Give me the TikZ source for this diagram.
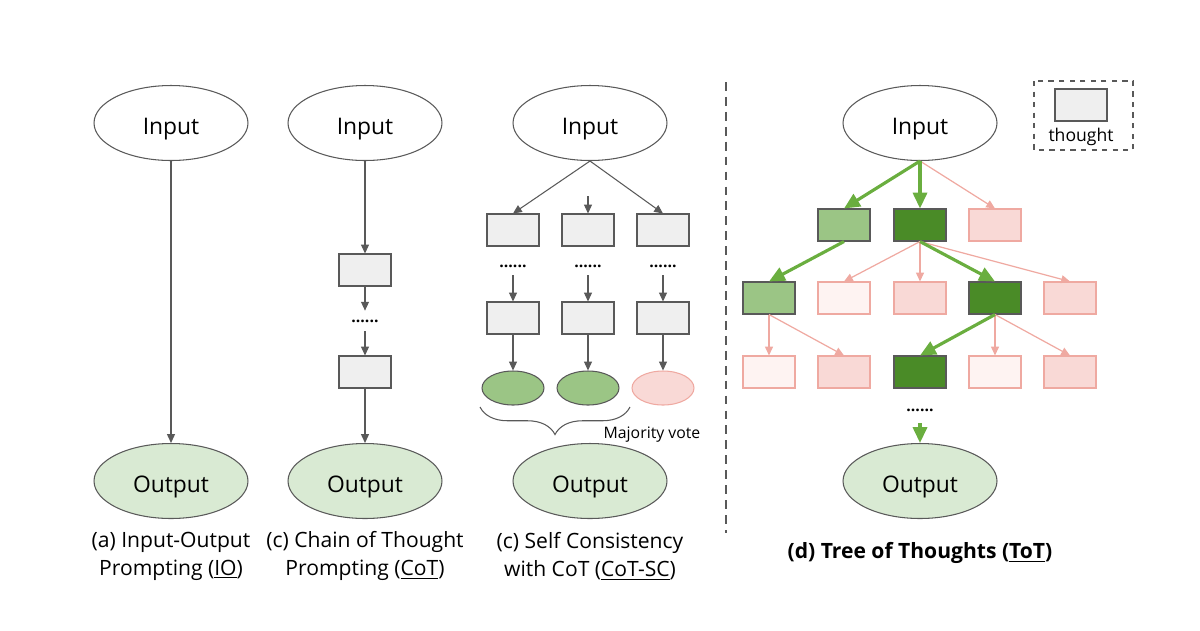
\documentclass[tikz,border=0pt]{standalone}
\usepackage{fontspec}
\setmainfont{Open Sans}
\usetikzlibrary{arrows.meta, positioning, shapes.geometric, decorations.pathreplacing}

\definecolor{edgegray}{HTML}{595959}
\definecolor{boxgray}{HTML}{EFEFEF}
\definecolor{outgreen}{HTML}{D9EAD3}
\definecolor{lightgreen}{HTML}{9BC585}
\definecolor{darkgreen}{HTML}{4A8B27}
\definecolor{arrowgreen}{HTML}{6AAE3F}
\definecolor{pinkfill}{HTML}{F9D9D6}
\definecolor{palepink}{HTML}{FEF3F2}
\definecolor{pinkline}{HTML}{EFA9A1}

\begin{document}
\begin{tikzpicture}[x=0.02cm, y=-0.02cm,
    io/.style={ellipse, draw=edgegray, fill=white, line width=0.6pt, minimum width=3.08cm, minimum height=1.5cm, inner sep=0pt, text height=13.3pt, text depth=0pt, font=\fontsize{13}{15}\selectfont},
    outnode/.style={io, fill=outgreen},
    thought/.style={draw=edgegray, fill=boxgray, line width=0.6pt, minimum width=1.04cm, minimum height=0.64cm, inner sep=0pt},
    answer/.style={ellipse, draw=edgegray, line width=0.6pt, minimum width=1.24cm, minimum height=0.68cm, inner sep=0pt},
    lgood/.style={thought, fill=lightgreen},
    dgood/.style={thought, fill=darkgreen},
    pbad/.style={thought, draw=pinkline, fill=pinkfill},
    pwbad/.style={thought, draw=pinkline, fill=palepink},
    dots/.style={inner sep=0pt, font=\bfseries\fontsize{9}{9}\selectfont},
    caption/.style={align=center, font=\fontsize{12}{16}\selectfont},
    garrow/.style={-{Triangle[length=5pt,width=4.5pt]}, draw=edgegray, line width=0.6pt},
    greenarrow/.style={-{Triangle[length=9pt,width=8pt]}, draw=arrowgreen, line width=1.8pt},
    pinkarrow/.style={-{Triangle[length=5pt,width=4.5pt]}, draw=pinkline, line width=0.7pt},
]
  \useasboundingbox (0,0) rectangle (1200,630);

  % (a) Input-Output
  \node[io] (in1) at (171,123) {Input};
  \node[outnode] (out1) at (171,481) {Output};
  \draw[garrow] (in1) -- (out1);
  \node[caption] (cap1) at (171,556) {(a) Input-Output\\Prompting (\underline{IO})};

  % (b) Chain of Thought
  \node[io] (in2) at (365,123) {Input};
  \node[thought] (cot1) at (365,270) {};
  \node[dots, minimum height=0.4cm] (cotd) at (365,321) {......};
  \node[thought] (cot2) at (365,372) {};
  \node[outnode] (out2) at (365,481) {Output};
  \draw[garrow] (in2) -- (cot1);
  \draw[garrow] (cot1) -- (cotd);
  \draw[garrow] (cotd) -- (cot2);
  \draw[garrow] (cot2) -- (out2);
  \node[caption] (cap2) at (365,556) {(c) Chain of Thought\\Prompting (\underline{CoT})};

  % (c) Self Consistency
  \node[io] (in3) at (590,123) {Input};
  \coordinate (scm) at (588,196);
  \foreach \i/\x in {1/513, 2/588, 3/663} {
    \node[thought] (sca\i) at (\x,230) {};
    \node[dots, minimum height=0.36cm] (scd\i) at (\x,266) {......};
    \node[thought] (scb\i) at (\x,318) {};
    \draw[garrow] (scd\i) -- (scb\i);
  }
  \node[answer, fill=lightgreen] (ans1) at (513,388) {};
  \node[answer, fill=lightgreen] (ans2) at (588,388) {};
  \node[answer, draw=pinkline, fill=pinkfill] (ans3) at (663,388) {};
  \draw[garrow] (in3.south) -- (sca1.north);
  \draw[garrow] (scm) -- (sca2.north);
  \draw[garrow] (in3.south) -- (sca3.north);
  \foreach \i in {1,2,3}
    \draw[garrow] (scb\i) -- (ans\i);
  \draw[edgegray, line width=0.6pt, decorate, decoration={brace, amplitude=0.55cm}] (630,407) -- (480,407);
  \node[font=\fontsize{9}{11}\selectfont] (vote) at (652,435) {Majority vote};
  \node[outnode] (out3) at (590,481) {Output};
  \node[caption] (cap3) at (590,556) {(c) Self Consistency\\with CoT (\underline{CoT-SC})};

  % separator
  \draw[edgegray, line width=1.2pt, dash pattern=on 5pt off 3.5pt] (726,82) -- (726,533);

  % (d) Tree of Thoughts
  \node[io] (tin) at (920,123) {Input};
  \node[lgood] (t11) at (844,225) {};
  \node[dgood] (t12) at (920,225) {};
  \node[pbad]  (t13) at (995,225) {};
  \node[lgood] (t21) at (769,298) {};
  \node[pwbad] (t22) at (844,298) {};
  \node[pbad]  (t23) at (920,298) {};
  \node[dgood] (t24) at (995,298) {};
  \node[pbad]  (t25) at (1070,298) {};
  \node[pwbad] (t31) at (769,372) {};
  \node[pbad]  (t32) at (844,372) {};
  \node[dgood] (t33) at (920,372) {};
  \node[pwbad] (t34) at (995,372) {};
  \node[pbad]  (t35) at (1070,372) {};
  \node[dots, minimum height=0.5cm] (tdots) at (920,410) {......};
  \node[outnode] (out4) at (920,481) {Output};

  \draw[pinkarrow] (tin.south) -- (t13.north);
  \foreach \c in {t22, t23, t25}
    \draw[pinkarrow] (t12.south) -- (\c.north);
  \foreach \c in {t31, t32}
    \draw[pinkarrow] (t21.south) -- (\c.north);
  \foreach \c in {t34, t35}
    \draw[pinkarrow] (t24.south) -- (\c.north);
  \draw[greenarrow] (tin.south) -- (t11.north);
  \draw[greenarrow] (tin.south) -- (t12.north);
  \draw[greenarrow] (t11.south) -- (t21.north);
  \draw[greenarrow] (t12.south) -- (t24.north);
  \draw[greenarrow] (t24.south) -- (t33.north);
  \draw[greenarrow] (tdots) -- (out4);
  \node[font=\bfseries\fontsize{12}{14}\selectfont] (cap4) at (920,553) {(d) Tree of Thoughts (\underline{ToT})};

  % legend
  \draw[edgegray, line width=0.6pt, dashed] (1034,81) rectangle (1133,150);
  \node[thought] (lgbox) at (1081,105) {};
  \node[font=\fontsize{10}{12}\selectfont, below=0pt of lgbox] (lgtext) {thought};
\end{tikzpicture}
\end{document}
